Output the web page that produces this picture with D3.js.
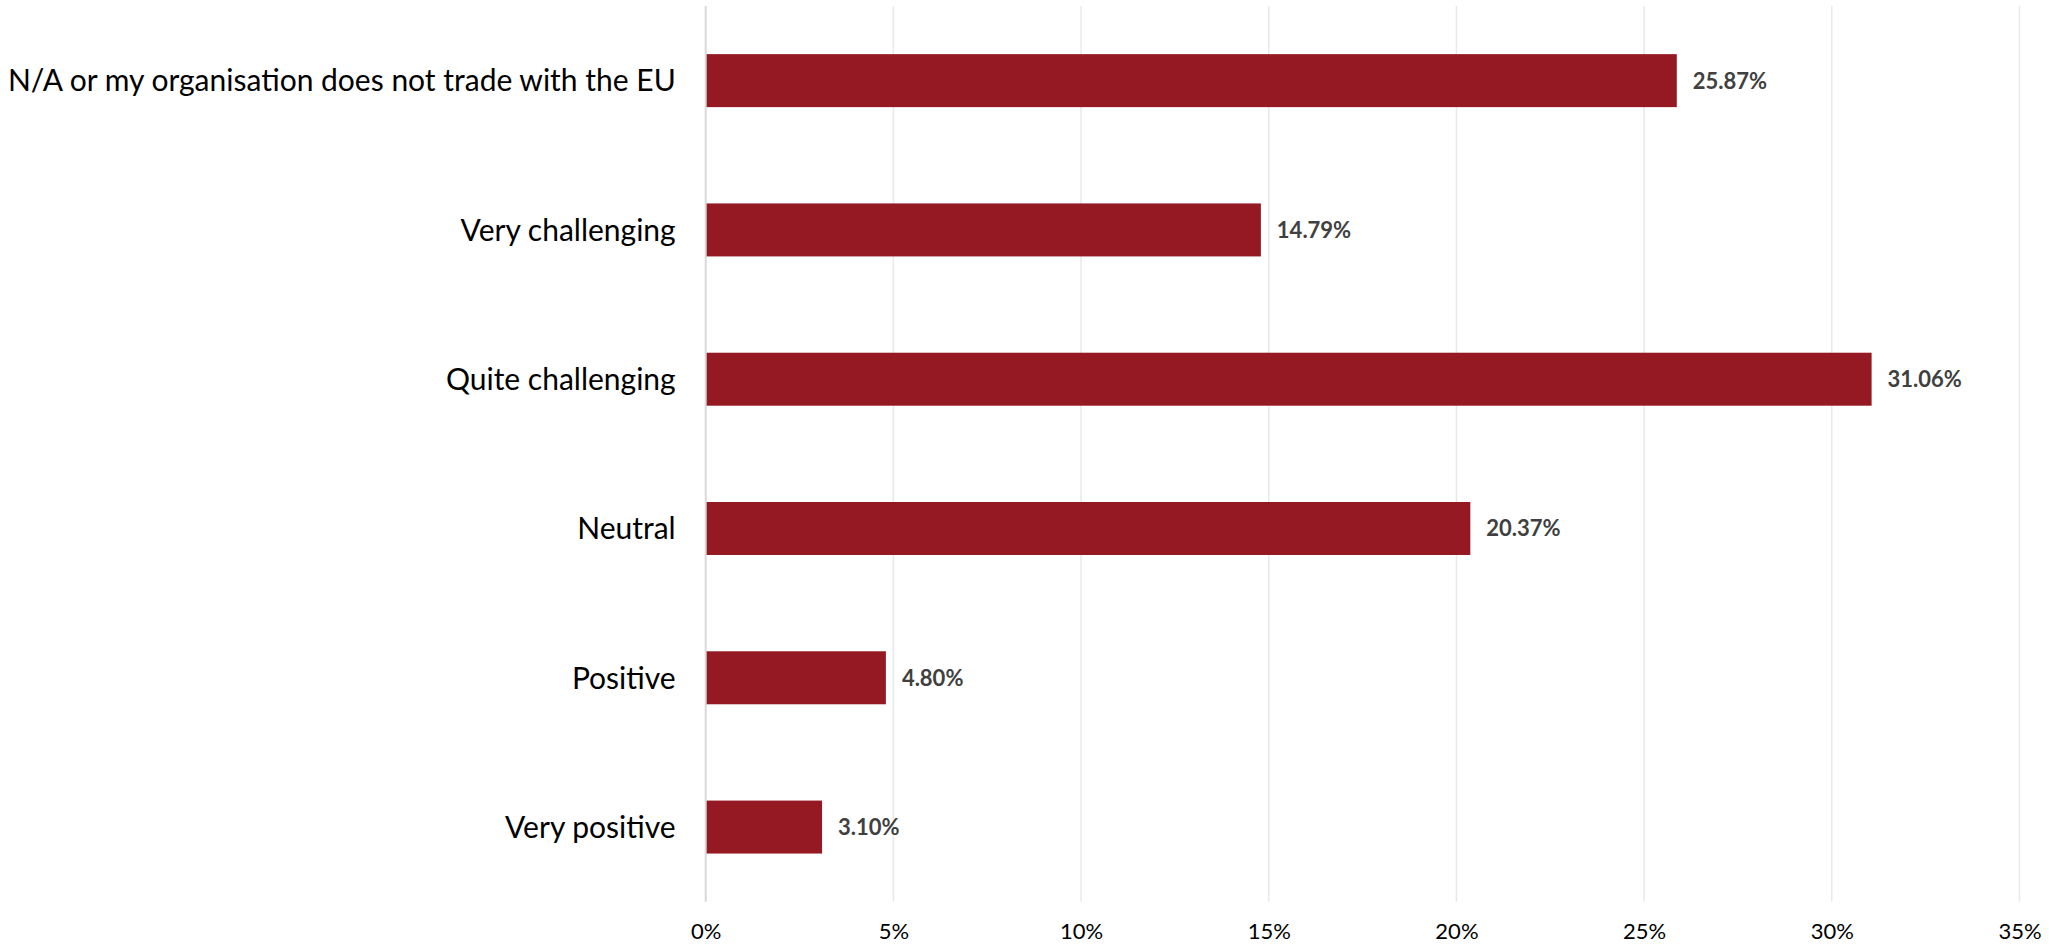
<!DOCTYPE html>
<html>
<head>
<meta charset="utf-8">
<script src="https://cdn.jsdelivr.net/npm/d3@7/dist/d3.min.js"></script>
<style>
  html, body { margin: 0; padding: 0; background: #ffffff; }
  svg { display: block; }
</style>
</head>
<body>
<svg id="chart" width="2049" height="945"></svg>
<script>
// Survey answers, top to bottom
const categories = [
  "N/A or my organisation does not trade with the EU",
  "Very challenging",
  "Quite challenging",
  "Neutral",
  "Positive",
  "Very positive"
];
// Share of respondents (%)
const values = [25.87, 14.79, 31.06, 20.37, 4.80, 3.10];
// Axis ticks (%)
const ticks = [0, 5, 10, 15, 20, 25, 30, 35];

const W = 2049, H = 945;
const plot = { left: 705.7, right: 2019.5, top: 6, bottom: 901.7 };
const barColor = "#951923";
const fontFamily = "Lato, 'Open Sans', 'DejaVu Sans', sans-serif";

const svg = d3.select("#chart");

const x = d3.scaleLinear().domain([0, 35]).range([plot.left, plot.right]);
const y = d3.scaleBand().domain(categories).range([plot.top, plot.bottom]).padding(0);
const barH = y.bandwidth() * 0.355;

// Vertical gridlines
svg.append("g")
  .selectAll("line")
  .data(ticks.filter(t => t > 0))
  .join("line")
  .attr("x1", d => x(d)).attr("x2", d => x(d))
  .attr("y1", plot.top).attr("y2", plot.bottom)
  .attr("stroke", "#e9e9e9")
  .attr("stroke-width", 1.5);

// Bars
svg.append("g")
  .selectAll("rect")
  .data(categories)
  .join("rect")
  .attr("x", x(0))
  .attr("y", d => y(d) + (y.bandwidth() - barH) / 2)
  .attr("width", (d, i) => x(values[i]) - x(0))
  .attr("height", barH)
  .attr("fill", barColor);

// Zero axis line
svg.append("line")
  .attr("x1", x(0)).attr("x2", x(0))
  .attr("y1", plot.top).attr("y2", plot.bottom)
  .attr("stroke", "#d9d9d9")
  .attr("stroke-width", 2);

// Bottom tick labels via d3 axis
const xAxis = d3.axisBottom(x)
  .tickValues(ticks)
  .tickFormat(d => d + "%")
  .tickSize(0)
  .tickPadding(0);

const gx = svg.append("g")
  .attr("transform", `translate(0, ${plot.bottom})`)
  .call(xAxis);
gx.select(".domain").remove();
gx.selectAll("text")
  .attr("dy", null)
  .attr("y", 37)
  .attr("font-family", fontFamily)
  .attr("font-size", 22)
  .attr("fill", "#000000");

// Category labels via d3 axis on the left
const yAxis = d3.axisLeft(y).tickSize(0).tickPadding(30);
const gy = svg.append("g")
  .attr("transform", `translate(${x(0)}, 0)`)
  .call(yAxis);
gy.select(".domain").remove();
gy.selectAll("text")
  .attr("dy", "0.36em")
  .attr("font-family", fontFamily)
  .attr("font-size", 30)
  .attr("fill", "#000000");

// Value labels
svg.append("g")
  .selectAll("text")
  .data(categories)
  .join("text")
  .attr("x", (d, i) => x(values[i]) + 16)
  .attr("y", d => y(d) + y.bandwidth() / 2)
  .attr("dy", "0.36em")
  .attr("font-family", fontFamily)
  .attr("font-weight", "bold")
  .attr("font-size", 22)
  .attr("fill", "#404040")
  .text((d, i) => values[i].toFixed(2) + "%");
</script>
</body>
</html>
